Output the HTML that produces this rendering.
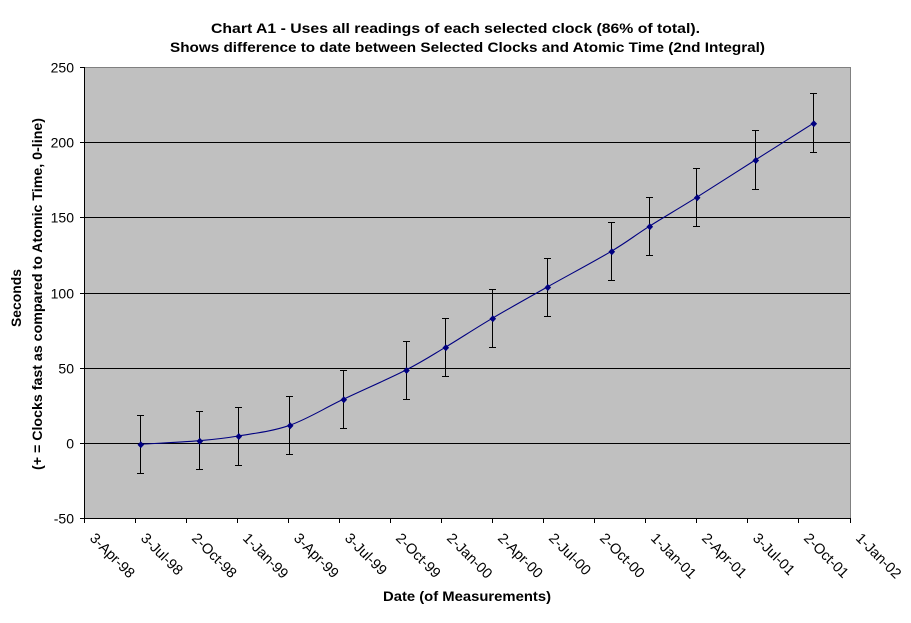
<!DOCTYPE html>
<html><head><meta charset="utf-8"><style>
html,body{margin:0;padding:0;background:#fff;}
svg{display:block;}
text{font-family:"Liberation Sans",Arial,sans-serif;fill:#000;}
</style></head><body>
<svg width="911" height="623" viewBox="0 0 911 623" xmlns="http://www.w3.org/2000/svg">
<rect x="0" y="0" width="911" height="623" fill="#fff"/>
<!-- Title -->
<text x="211" y="33" font-size="14" font-weight="bold" textLength="489" lengthAdjust="spacingAndGlyphs">Chart A1 - Uses all readings of each selected clock (86% of total).</text>
<text x="170" y="52" font-size="14" font-weight="bold" textLength="595" lengthAdjust="spacingAndGlyphs">Shows difference to date between Selected Clocks and Atomic Time (2nd Integral)</text>

<!-- Plot area -->
<rect x="84" y="67" width="766" height="451" fill="#C0C0C0"/>
<g stroke="#000" stroke-width="1" shape-rendering="crispEdges">
<line x1="84" y1="142.5" x2="850" y2="142.5"/>
<line x1="84" y1="217.5" x2="850" y2="217.5"/>
<line x1="84" y1="293.5" x2="850" y2="293.5"/>
<line x1="84" y1="368.5" x2="850" y2="368.5"/>
<line x1="84" y1="443.5" x2="850" y2="443.5"/>
</g>
<g stroke="#808080" stroke-width="1" shape-rendering="crispEdges">
<line x1="84" y1="67.5" x2="851" y2="67.5"/>
<line x1="850.5" y1="67" x2="850.5" y2="518"/>
</g>
<g stroke="#000" stroke-width="1" shape-rendering="crispEdges">
<line x1="84.5" y1="67" x2="84.5" y2="519"/>
<line x1="84" y1="518.5" x2="851" y2="518.5"/>
<!-- y ticks -->
<line x1="80" y1="67.5" x2="84" y2="67.5"/>
<line x1="80" y1="142.5" x2="84" y2="142.5"/>
<line x1="80" y1="217.5" x2="84" y2="217.5"/>
<line x1="80" y1="293.5" x2="84" y2="293.5"/>
<line x1="80" y1="368.5" x2="84" y2="368.5"/>
<line x1="80" y1="443.5" x2="84" y2="443.5"/>
<line x1="80" y1="518.5" x2="84" y2="518.5"/>
<!-- x ticks -->
<line x1="84.5" y1="518" x2="84.5" y2="523"/>
<line x1="135.5" y1="518" x2="135.5" y2="523"/>
<line x1="186.5" y1="518" x2="186.5" y2="523"/>
<line x1="237.5" y1="518" x2="237.5" y2="523"/>
<line x1="288.5" y1="518" x2="288.5" y2="523"/>
<line x1="339.5" y1="518" x2="339.5" y2="523"/>
<line x1="390.5" y1="518" x2="390.5" y2="523"/>
<line x1="441.5" y1="518" x2="441.5" y2="523"/>
<line x1="492.5" y1="518" x2="492.5" y2="523"/>
<line x1="543.5" y1="518" x2="543.5" y2="523"/>
<line x1="594.5" y1="518" x2="594.5" y2="523"/>
<line x1="645.5" y1="518" x2="645.5" y2="523"/>
<line x1="696.5" y1="518" x2="696.5" y2="523"/>
<line x1="747.5" y1="518" x2="747.5" y2="523"/>
<line x1="798.5" y1="518" x2="798.5" y2="523"/>
<line x1="850.5" y1="518" x2="850.5" y2="523"/>
</g>

<!-- y tick labels -->
<g font-size="14" text-anchor="end">
<text x="74" y="72.5">250</text>
<text x="74" y="147.5">200</text>
<text x="74" y="222.5">150</text>
<text x="74" y="298.5">100</text>
<text x="74" y="373.5">50</text>
<text x="74" y="448.5">0</text>
<text x="74" y="523.5">-50</text>
</g>

<!-- x tick labels -->
<g font-size="14.5">
<text transform="translate(89,539) rotate(45)">3-Apr-98</text>
<text transform="translate(140,539) rotate(45)">3-Jul-98</text>
<text transform="translate(191,539) rotate(45)">2-Oct-98</text>
<text transform="translate(242,539) rotate(45)">1-Jan-99</text>
<text transform="translate(293,539) rotate(45)">3-Apr-99</text>
<text transform="translate(344,539) rotate(45)">3-Jul-99</text>
<text transform="translate(395,539) rotate(45)">2-Oct-99</text>
<text transform="translate(446,539) rotate(45)">2-Jan-00</text>
<text transform="translate(497,539) rotate(45)">2-Apr-00</text>
<text transform="translate(548,539) rotate(45)">2-Jul-00</text>
<text transform="translate(599,539) rotate(45)">2-Oct-00</text>
<text transform="translate(650,539) rotate(45)">1-Jan-01</text>
<text transform="translate(701,539) rotate(45)">2-Apr-01</text>
<text transform="translate(752,539) rotate(45)">3-Jul-01</text>
<text transform="translate(803,539) rotate(45)">2-Oct-01</text>
<text transform="translate(855,539) rotate(45)">1-Jan-02</text>
</g>

<!-- axis titles -->
<text x="383" y="601" font-size="14" font-weight="bold" textLength="168" lengthAdjust="spacingAndGlyphs">Date (of Measurements)</text>
<text transform="translate(21,298) rotate(-90)" font-size="14" font-weight="bold" text-anchor="middle" textLength="58" lengthAdjust="spacingAndGlyphs">Seconds</text>
<text transform="translate(42,294) rotate(-90)" font-size="14" font-weight="bold" text-anchor="middle" textLength="352" lengthAdjust="spacingAndGlyphs">(+ = Clocks fast as compared to Atomic Time, 0-line)</text>

<!-- error bars -->
<g stroke="#000" stroke-width="1" fill="none" shape-rendering="crispEdges">
<path d="M140.5 415V474M137 415.5H144M137 473.5H144"/>
<path d="M199.5 411V470M196 411.5H203M196 469.5H203"/>
<path d="M238.5 407V466M235 407.5H242M235 465.5H242"/>
<path d="M289.5 396V455M286 396.5H293M286 454.5H293"/>
<path d="M343.5 370V429M340 370.5H347M340 428.5H347"/>
<path d="M406.5 341V400M403 341.5H410M403 399.5H410"/>
<path d="M445.5 318V377M442 318.5H449M442 376.5H449"/>
<path d="M492.5 289V348M489 289.5H496M489 347.5H496"/>
<path d="M547.5 258V317M544 258.5H551M544 316.5H551"/>
<path d="M611.5 222V281M608 222.5H615M608 280.5H615"/>
<path d="M649.5 197V256M646 197.5H653M646 255.5H653"/>
<path d="M696.5 168V227M693 168.5H700M693 226.5H700"/>
<path d="M755.5 130V190M752 130.5H759M752 189.5H759"/>
<path d="M813.5 93V153M810 93.5H817M810 152.5H817"/>
</g>

<!-- smoothed line -->
<path fill="none" stroke="#000080" stroke-width="1.1" d="M140.3 444.3
C150.13 443.7 182.97 442.08 199.3 440.7
C215.63 439.32 223.23 438.57 238.3 436
C253.37 433.43 272.2 431.42 289.7 425.3
C307.2 419.18 323.92 408.52 343.3 399.3
C362.68 390.08 389 378.67 406 370
C423 361.33 430.92 355.92 445.3 347.3
C459.68 338.68 475.3 328.35 492.3 318.3
C509.3 308.25 527.47 298.17 547.3 287
C567.13 275.83 594.3 261.42 611.3 251.3
C628.3 241.18 635.07 235.3 649.3 226.3
C663.53 217.3 679.03 208.35 696.7 197.3
C714.37 186.25 735.87 172.33 755.3 160
C774.73 147.67 803.63 129.42 813.3 123.3"/>

<!-- markers -->
<g fill="#000080">
<path d="M140.8 441.3l3.3 3.5-3.3 3.5-3.3-3.5z"/>
<path d="M199.8 437.7l3.3 3.5-3.3 3.5-3.3-3.5z"/>
<path d="M238.8 433l3.3 3.5-3.3 3.5-3.3-3.5z"/>
<path d="M290.2 422.3l3.3 3.5-3.3 3.5-3.3-3.5z"/>
<path d="M343.8 396.3l3.3 3.5-3.3 3.5-3.3-3.5z"/>
<path d="M406.5 367l3.3 3.5-3.3 3.5-3.3-3.5z"/>
<path d="M445.8 344.3l3.3 3.5-3.3 3.5-3.3-3.5z"/>
<path d="M492.8 315.3l3.3 3.5-3.3 3.5-3.3-3.5z"/>
<path d="M547.8 284l3.3 3.5-3.3 3.5-3.3-3.5z"/>
<path d="M611.8 248.3l3.3 3.5-3.3 3.5-3.3-3.5z"/>
<path d="M649.8 223.3l3.3 3.5-3.3 3.5-3.3-3.5z"/>
<path d="M697.2 194.3l3.3 3.5-3.3 3.5-3.3-3.5z"/>
<path d="M755.8 157l3.3 3.5-3.3 3.5-3.3-3.5z"/>
<path d="M813.8 120.3l3.3 3.5-3.3 3.5-3.3-3.5z"/>
</g>
</svg>
</body></html>
